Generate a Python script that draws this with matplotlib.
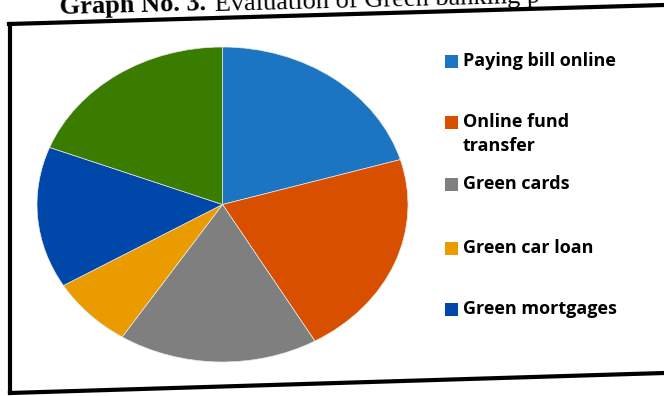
import matplotlib
matplotlib.use("Agg")
import matplotlib.pyplot as plt
from matplotlib.patches import Rectangle

# ---- data ----
categories = ["Paying bill online", "Online fund transfer", "Green cards",
              "Green car loan", "Green mortgages", "Other"]
legend_labels = ["Paying bill online", "Online fund\ntransfer", "Green cards",
                 "Green car loan", "Green mortgages"]
values = [20.4, 21.3, 17.4, 7.3, 14.5, 19.1]
colors = ["#1C75C3", "#D84F00", "#7F7F7F", "#E99B00", "#0047AA", "#3A7C00"]
title_bold = "Graph No. 3."
title_rest = "Evaluation of Green banking p"

W, H = 664, 396
fig = plt.figure(figsize=(W / 100, H / 100), dpi=100)
fig.patch.set_facecolor("white")

# pie axes (ellipse-shaped as in the scan)
left, right, top, bottom = 37, 408, 47, 362
ax = fig.add_axes([left / W, 1 - bottom / H, (right - left) / W, (bottom - top) / H])
wedges, _ = ax.pie(values, colors=colors, startangle=90, counterclock=False,
                   wedgeprops=dict(edgecolor="#E8E8E8", linewidth=0.5))
ax.set_aspect("auto")
ax.set_xlim(-1.0, 1.0)
ax.set_ylim(-1.0, 1.0)
ax.axis("off")

# overlay in pixel coordinates for frame, title and legend
ov = fig.add_axes([0, 0, 1, 1], zorder=5)
ov.set_xlim(0, W)
ov.set_ylim(H, 0)
ov.axis("off")
ov.patch.set_alpha(0)

lw = 3.0
ov.plot([9, 664], [24, 5], color="black", lw=lw, solid_capstyle="projecting")
ov.plot([10, 10], [24, 393], color="black", lw=lw, solid_capstyle="projecting")
ov.plot([10, 664], [393, 373], color="black", lw=lw, solid_capstyle="projecting")

# title (partially cut off at the top, as in the scan)
ov.text(60, 14.5, title_bold, fontsize=19, fontweight="bold",
        family="Liberation Serif", va="baseline", ha="left",
        rotation=1.5, rotation_mode="anchor")
ov.text(215, 11, title_rest, fontsize=19, family="Liberation Serif",
        va="baseline", ha="left", rotation=1.5, rotation_mode="anchor")

# legend (only five entries shown in the reference)
ys = [61, 122, 184, 248, 309]
for lab, col, y in zip(legend_labels, colors[:5], ys):
    ov.add_patch(Rectangle((445, y - 6.5), 13, 13, facecolor=col, edgecolor="none"))
    if "\n" in lab:
        ov.text(463, y - 9, lab, fontsize=13, fontweight="bold", family="Open Sans",
                va="top", ha="left", linespacing=1.4)
    else:
        ov.text(463, y, lab, fontsize=13, fontweight="bold", family="Open Sans",
                va="center", ha="left")

fig.savefig("out.png", dpi=100)
